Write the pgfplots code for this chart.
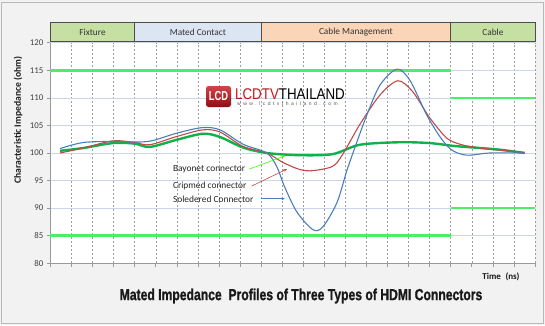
\documentclass[border=0pt]{standalone}
\usepackage{fontspec}
\setmainfont{Carlito}
\newfontfamily\lib{Liberation Sans}
\newfontfamily\libfb{Liberation Sans}[FakeBold=1.2]
\usepackage{pgfplots}
\pgfplotsset{compat=1.18}
\usetikzlibrary{arrows.meta}
\definecolor{bgc}{HTML}{F2F2F2}
\definecolor{sblue}{HTML}{4A7EBB}
\definecolor{cred}{HTML}{BE4B48}
\definecolor{bgreen}{HTML}{12B04A}
\definecolor{limg}{HTML}{4DEE66}
\definecolor{hgrid}{HTML}{C9D5E8}
\definecolor{fixc}{HTML}{C6E0A4}
\definecolor{matc}{HTML}{DCE6F2}
\definecolor{cmc}{HTML}{FBD5B7}
\definecolor{logored}{HTML}{C8151B}
\begin{document}
\begin{tikzpicture}[x=1pt,y=1pt]
\fill[bgc] (0,0) rectangle (545,325);
\draw[gray!55, line width=1pt] (1.5,2) rectangle (543,323);
\begin{axis}[
  at={(50.4pt,61.7pt)}, anchor=south west, scale only axis,
  width=484.6pt, height=220.6pt,
  xmin=0, xmax=23, ymin=80, ymax=120,
  xtick={0,...,23}, xticklabels={},
  ytick={80,85,...,120},
  axis background/.style={fill=white},
  clip=false,
  axis x line*=bottom, axis y line*=left,
  axis line style={-, draw=gray!80, line width=0.7pt},
  tick style={draw=gray!80, line width=0.6pt},
  tick align=outside, major tick length=3.5pt,
  xmajorgrids, ymajorgrids,
  x grid style={dashed, dash pattern=on 2pt off 2pt, gray!75, line width=0.5pt},
  y grid style={hgrid, line width=0.6pt},
  /pgf/number format/assume math mode=true,
  yticklabel style={font=\fontsize{8.8}{9}\selectfont, text=black!75},
]
% limit lines
\addplot[limg, line width=2.6pt, no marks] coordinates {(0,115) (19,115)};
\addplot[limg, line width=2.6pt, no marks] coordinates {(0,85) (19,85)};
\addplot[limg, line width=2.6pt, no marks] coordinates {(19,110) (23,110)};
\addplot[limg, line width=2.6pt, no marks] coordinates {(19,90) (23,90)};
% Bayonet
\addplot[bgreen, line width=2.4pt, no marks, smooth] coordinates {
(0.46,100.4) (1.55,100.9) (2.97,101.8) (4.0,101.7) (4.72,101.1) (6.0,102.4)
(7.24,103.5) (8.05,102.9) (9.14,101.0) (10.27,100.0) (11.84,99.6) (13.4,99.8)
(14.69,101.5) (16.58,101.95) (18.0,101.8) (19.1,101.3) (19.9,101.05) (21.33,100.6) (22.51,100.0)};
% Crimped
\addplot[cred, line width=1.1pt, no marks, smooth] coordinates {
(0.46,100.0) (1.55,100.9) (2.97,102.2) (4.0,101.9) (4.72,101.5) (6.0,103.0)
(7.24,104.2) (8.05,103.8) (9.14,101.2) (10.27,100.0) (11.03,98.3) (11.84,97.0)
(12.46,96.8) (13.4,97.6) (13.88,99.8) (14.69,105.2) (15.64,110.5) (16.49,113.1)
(17.2,111.1) (18.0,106.4) (18.81,102.7) (19.43,101.6) (19.9,101.2) (20.85,100.7) (22.51,100.1)};
% Soldered
\addplot[sblue, line width=1.1pt, no marks, smooth] coordinates {
(0.46,100.8) (1.55,101.9) (3.0,102.1) (4.25,102.0) (4.9,102.3) (6.0,103.6)
(7.2,104.6) (8.05,104.2) (9.14,101.6) (10.27,100.0) (10.75,97.5) (11.1,94.0)
(11.7,89.3) (12.46,86.1) (12.93,86.6) (13.6,91.0) (14.07,96.8) (14.5,101.5)
(15.02,106.9) (15.64,112.3) (16.44,115.2) (17.06,113.2) (17.86,106.9) (18.48,103.0)
(18.96,100.8) (19.4,99.9) (19.9,99.6) (20.85,100.0) (22.51,100.0)};
% header bands
\draw[fill=fixc, draw=black!70, line width=0.7pt] (axis cs:0,120.2) rectangle (axis cs:4,123.6);
\draw[fill=matc, draw=black!70, line width=0.7pt] (axis cs:4,120.2) rectangle (axis cs:10,123.6);
\draw[fill=cmc, draw=black!70, line width=0.7pt] (axis cs:10,120.2) rectangle (axis cs:19,123.6);
\draw[fill=fixc, draw=black!70, line width=0.7pt] (axis cs:19,120.2) rectangle (axis cs:23,123.6);
\node[font=\fontsize{9.3}{10}\selectfont, text=black!80] at (axis cs:2,121.9) {Fixture};
\node[font=\fontsize{9.3}{10}\selectfont, text=black!80] at (axis cs:7,121.9) {Mated Contact};
\node[font=\fontsize{9.3}{10}\selectfont, text=black!80] at (axis cs:14.5,121.9) {Cable Management};
\node[font=\fontsize{9.3}{10}\selectfont, text=black!80] at (axis cs:21,121.9) {Cable};
% annotations
\node[anchor=west, inner sep=0, font=\fontsize{9.4}{10}\selectfont, text=black!85] at (axis cs:5.81,97.1) {Bayonet connector};
\node[anchor=west, inner sep=0, font=\fontsize{9.4}{10}\selectfont, text=black!85] at (axis cs:5.81,94.0) {Cripmed connector};
\node[anchor=west, inner sep=0, font=\fontsize{9.4}{10}\selectfont, text=black!85] at (axis cs:5.81,91.7) {Soledered Connector};
\draw[green!70!lime, line width=0.6pt, -{Stealth[length=3.5pt,width=2.8pt]}] (axis cs:9.45,97.1) -- (axis cs:11.14,99.5);
\draw[cred, line width=0.6pt, -{Stealth[length=3.5pt,width=2.8pt]}] (axis cs:9.55,94.0) -- (axis cs:11.23,97.1);
\draw[sblue, line width=0.6pt, -{Stealth[length=3.5pt,width=2.8pt]}] (axis cs:10.0,91.7) -- (axis cs:11.13,91.7);
\end{axis}
% axis labels
\node[rotate=90, font=\bfseries\fontsize{9.6}{10}\selectfont, text=black!90] at (18,205) {Characteristic Impedance (ohm)};
\node[font=\bfseries\fontsize{9}{10}\selectfont, text=black!90] at (501,48) {Time\enspace(ns)};
\node[font=\libfb\bfseries\fontsize{16}{18}\selectfont, text=black!90] at (301,29) {\scalebox{0.76}[1]{Mated Impedance\ \ Profiles of Three Types of HDMI Connectors}};
% logo
\shade[top color=logored!80, bottom color=logored!70!black, rounded corners=2.5pt] (206,218) rectangle (231,239);
\node[white, font=\lib\bfseries\fontsize{13}{13}\selectfont, inner sep=0] at (218.5,228.5) {\scalebox{0.72}[1]{LCD}};
\node[anchor=west, inner sep=0, font=\lib\fontsize{15.5}{15.5}\selectfont] at (235,231) {\scalebox{0.86}[1]{\textcolor{logored}{LCDTV}THAILAND}};
\node[anchor=west, inner sep=0, font=\lib\fontsize{5}{5}\selectfont\addfontfeatures{LetterSpace=50}, text=black!65] at (237,221) {www.lcdtvthailand.com};
\end{tikzpicture}
\end{document}
